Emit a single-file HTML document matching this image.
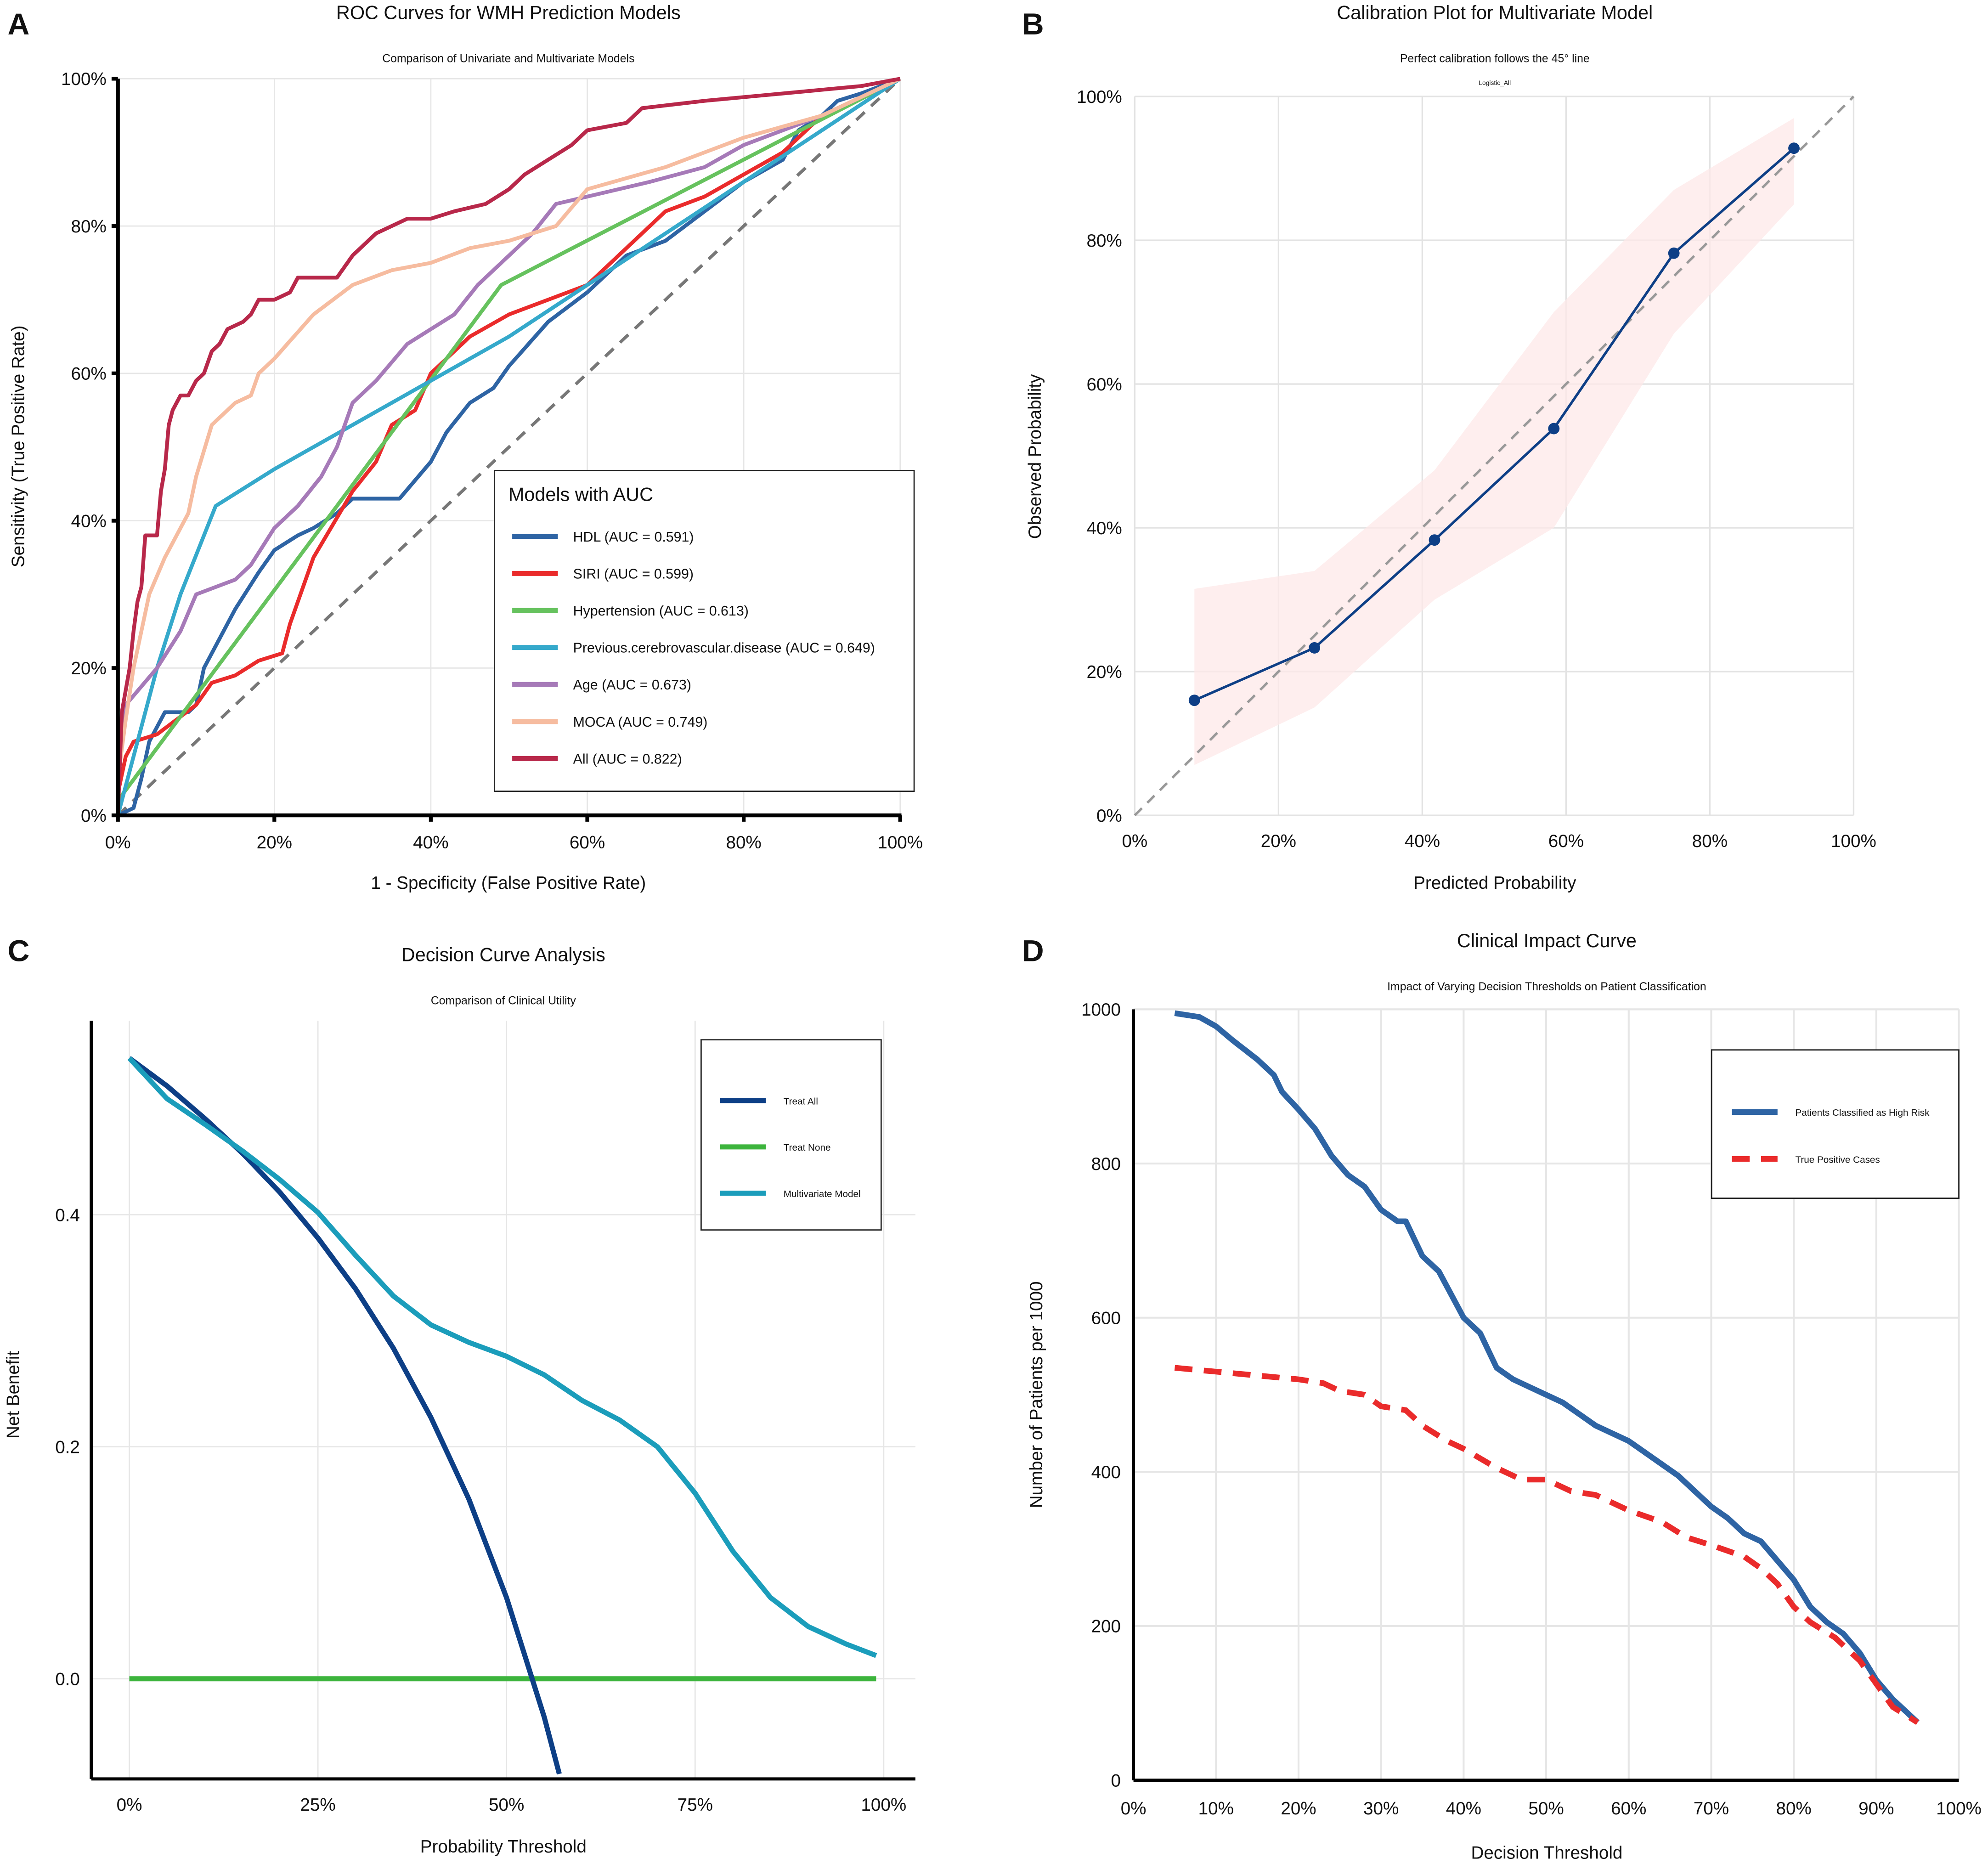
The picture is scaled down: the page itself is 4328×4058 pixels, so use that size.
<!DOCTYPE html>
<html><head><meta charset="utf-8"><style>
html,body{margin:0;padding:0;background:#fff;}
svg{display:block;font-family:"Liberation Sans",Arial,sans-serif;}
</style></head><body>
<svg id="fig" width="4328" height="4058" viewBox="0 0 1568 1470" xmlns="http://www.w3.org/2000/svg">
<rect x="0" y="0" width="1568" height="1470" fill="#fff"/>
</svg>
<script>
// ---------- Panel A data (ROC) ----------
const rocNames = ["HDL (AUC = 0.591)","SIRI (AUC = 0.599)","Hypertension (AUC = 0.613)","Previous.cerebrovascular.disease (AUC = 0.649)","Age (AUC = 0.673)","MOCA (AUC = 0.749)","All (AUC = 0.822)"];
const rocColors = ["#2e64a4","#ea2b2b","#66c25e","#35a9cb","#a67ab8","#f6bca0","#b8284a"];
const rocHDL = [[0,0],[0.02,0.01],[0.03,0.05],[0.04,0.1],[0.06,0.14],[0.09,0.14],[0.1,0.15],[0.11,0.2],[0.13,0.24],[0.15,0.28],[0.18,0.33],[0.2,0.36],[0.23,0.38],[0.25,0.39],[0.28,0.41],[0.3,0.43],[0.36,0.43],[0.4,0.48],[0.42,0.52],[0.45,0.56],[0.48,0.58],[0.5,0.61],[0.55,0.67],[0.6,0.71],[0.65,0.76],[0.7,0.78],[0.75,0.82],[0.8,0.86],[0.85,0.89],[0.87,0.93],[0.9,0.95],[0.92,0.97],[0.95,0.98],[1,1]];
const rocSIRI = [[0,0.03],[0.01,0.08],[0.02,0.1],[0.05,0.11],[0.1,0.15],[0.12,0.18],[0.15,0.19],[0.18,0.21],[0.21,0.22],[0.22,0.26],[0.25,0.35],[0.3,0.44],[0.33,0.48],[0.35,0.53],[0.38,0.55],[0.4,0.6],[0.45,0.65],[0.5,0.68],[0.55,0.7],[0.6,0.72],[0.65,0.77],[0.7,0.82],[0.75,0.84],[0.8,0.87],[0.85,0.9],[0.9,0.95],[1,1]];
const rocHyp = [[0,0.02],[0.49,0.72],[1,1]];
const rocPrev = [[0,0],[0.02,0.08],[0.05,0.2],[0.08,0.3],[0.125,0.42],[0.2,0.47],[0.3,0.53],[0.4,0.59],[0.5,0.65],[0.6,0.72],[0.7,0.79],[0.8,0.86],[0.9,0.93],[1,1]];
const rocAge = [[0,0.1],[0.01,0.15],[0.05,0.2],[0.08,0.25],[0.1,0.3],[0.15,0.32],[0.17,0.34],[0.2,0.39],[0.23,0.42],[0.26,0.46],[0.28,0.5],[0.3,0.56],[0.33,0.59],[0.37,0.64],[0.4,0.66],[0.43,0.68],[0.46,0.72],[0.5,0.76],[0.53,0.79],[0.56,0.83],[0.6,0.84],[0.68,0.86],[0.75,0.88],[0.8,0.91],[0.9,0.95],[1,1]];
const rocMOCA = [[0,0.05],[0.01,0.13],[0.02,0.2],[0.04,0.3],[0.06,0.35],[0.09,0.41],[0.1,0.46],[0.12,0.53],[0.15,0.56],[0.17,0.57],[0.18,0.6],[0.2,0.62],[0.25,0.68],[0.3,0.72],[0.35,0.74],[0.4,0.75],[0.45,0.77],[0.5,0.78],[0.56,0.8],[0.6,0.85],[0.7,0.88],[0.8,0.92],[0.9,0.95],[1,1]];
const rocAll = [[0,0],[0.005,0.14],[0.01,0.17],[0.015,0.2],[0.02,0.25],[0.025,0.29],[0.03,0.31],[0.035,0.38],[0.05,0.38],[0.055,0.44],[0.06,0.47],[0.065,0.53],[0.07,0.55],[0.08,0.57],[0.09,0.57],[0.1,0.59],[0.11,0.6],[0.12,0.63],[0.13,0.64],[0.14,0.66],[0.16,0.67],[0.17,0.68],[0.18,0.7],[0.2,0.7],[0.22,0.71],[0.23,0.73],[0.28,0.73],[0.3,0.76],[0.32,0.78],[0.33,0.79],[0.35,0.8],[0.37,0.81],[0.4,0.81],[0.43,0.82],[0.47,0.83],[0.5,0.85],[0.52,0.87],[0.55,0.89],[0.58,0.91],[0.6,0.93],[0.65,0.94],[0.67,0.96],[0.75,0.97],[0.85,0.98],[0.95,0.99],[1,1]];
const pctTicks = ["0%","20%","40%","60%","80%","100%"];
// ---------- Panel B data (calibration) ----------
const calPred = [0.083,0.25,0.417,0.583,0.75,0.917];
const calObs = [0.16,0.233,0.383,0.538,0.782,0.928];
const calLo = [0.07,0.15,0.3,0.4,0.67,0.85];
const calHi = [0.315,0.34,0.48,0.7,0.87,0.97];
// ---------- Panel C data (DCA) ----------
const dcaT = [0,0.05,0.1,0.15,0.2,0.25,0.3,0.35,0.4,0.45,0.5,0.55,0.57];
const dcaAll = [0.535,0.511,0.483,0.453,0.419,0.38,0.336,0.285,0.225,0.155,0.07,-0.033,-0.082];
const dcaModelT = [0,0.05,0.1,0.15,0.2,0.25,0.3,0.35,0.4,0.45,0.5,0.55,0.6,0.65,0.7,0.75,0.8,0.85,0.9,0.95,0.99];
const dcaModel = [0.535,0.5,0.478,0.455,0.43,0.402,0.365,0.33,0.305,0.29,0.278,0.262,0.24,0.223,0.2,0.16,0.11,0.07,0.045,0.03,0.02];
const dcaNoneT = [0,0.99];
const dcaNone = [0,0];
const dcaXTicks = ["0%","25%","50%","75%","100%"];
const dcaYTicks = ["0.0","0.2","0.4"];
// ---------- Panel D data (clinical impact) ----------
const ciT = [0.05,0.08,0.1,0.12,0.15,0.17,0.18,0.2,0.22,0.24,0.26,0.28,0.3,0.32,0.33,0.35,0.37,0.4,0.42,0.44,0.46,0.48,0.5,0.52,0.54,0.56,0.58,0.6,0.62,0.64,0.66,0.68,0.7,0.72,0.74,0.76,0.78,0.8,0.82,0.84,0.86,0.88,0.9,0.92,0.95];
const ciHigh = [995,990,978,960,935,915,893,870,845,810,785,770,740,725,725,680,660,600,580,535,520,510,500,490,475,460,450,440,425,410,395,375,355,340,320,310,285,260,225,205,190,165,130,105,75];
const ciTPT = [0.05,0.1,0.15,0.2,0.23,0.25,0.28,0.3,0.33,0.35,0.38,0.4,0.44,0.47,0.5,0.53,0.56,0.6,0.64,0.67,0.7,0.74,0.76,0.78,0.8,0.82,0.85,0.88,0.9,0.92,0.95];
const ciTP = [535,530,525,520,515,505,500,485,480,460,440,430,405,390,390,375,370,350,335,315,305,290,275,255,225,205,185,155,125,95,75];
const ciXTicks = ["0%","10%","20%","30%","40%","50%","60%","70%","80%","90%","100%"];
const ciYTicks = ["0","200","400","600","800","1000"];

const NS="http://www.w3.org/2000/svg";
const svg=document.getElementById('fig');
function el(tag,attrs,parent,txt){const e=document.createElementNS(NS,tag);for(const k in attrs)e.setAttribute(k,attrs[k]);if(txt!==undefined)e.textContent=txt;(parent||svg).appendChild(e);return e;}
function txt(x,y,s,size,anchor,extra){return el('text',Object.assign({x:x,y:y,'font-size':size,'text-anchor':anchor||'middle',fill:'#111'},extra||{}),svg,s);}
function pathFrom(pts){return pts.map((p,i)=>(i?'L':'M')+p[0].toFixed(2)+' '+p[1].toFixed(2)).join(' ');}

// Panel labels
[["A",6,27],["B",806,27],["C",6,758],["D",806,758]].forEach(l=>{const t=txt(l[1],l[2],l[0],24,'start',{'font-weight':'bold'});

});

// ===== Panel A =====
(function(){
const x0=93,x1=710,y0=643,y1=62;
const sx=v=>x0+v*(x1-x0), sy=v=>y0-v*(y0-y1);
for(let i=0;i<=5;i++){const v=i/5;
 el('line',{x1:sx(v),x2:sx(v),y1:y1,y2:y0,stroke:'#e6e6e6','stroke-width':1});
 el('line',{x1:x0,x2:x1,y1:sy(v),y2:sy(v),stroke:'#e6e6e6','stroke-width':1});}
el('line',{x1:sx(0),y1:sy(0),x2:sx(1),y2:sy(1),stroke:'#777','stroke-width':2.5,'stroke-dasharray':'9,7'});
const series=[rocHDL,rocSIRI,rocHyp,rocPrev,rocAge,rocMOCA,rocAll];
const keys=['hdl','siri','hypertension','prev-cerebrovascular','age','moca','all'];
series.forEach((s,i)=>{const p=el('path',{d:pathFrom(s.map(q=>[sx(q[0]),sy(q[1])])),fill:'none',stroke:rocColors[i],'stroke-width':3,'stroke-linejoin':'round'});
 
 });
el('line',{x1:x0,x2:x0,y1:y1,y2:y0+1,stroke:'#000','stroke-width':3});
el('line',{x1:x0-1,x2:x1+1,y1:y0,y2:y0,stroke:'#000','stroke-width':3});
for(let i=0;i<=5;i++){const v=i/5;
 el('line',{x1:sx(v),x2:sx(v),y1:y0,y2:y0+5,stroke:'#000','stroke-width':3});
 el('line',{x1:x0-5,x2:x0,y1:sy(v),y2:sy(v),stroke:'#000','stroke-width':3});
 const a=txt(sx(v),y0+26,pctTicks[i],14);
 const b=txt(x0-9,sy(v)+5,pctTicks[i],14,'end');}
let t=txt(401,15,"ROC Curves for WMH Prediction Models",15);
t=txt(401,49,"Comparison of Univariate and Multivariate Models",9);
t=txt(401,701,"1 - Specificity (False Positive Rate)",14);
t=txt(0,0,"Sensitivity (True Positive Rate)",14,'middle',{transform:'translate(19,352) rotate(-90)'});
const lg=el('rect',{x:390,y:371,width:331,height:253,fill:'#fff',stroke:'#222','stroke-width':1});

t=txt(401,395,"Models with AUC",15,'start');
rocNames.forEach((n,i)=>{const y=423+i*29.2;
 el('line',{x1:404,x2:440,y1:y,y2:y,stroke:rocColors[i],'stroke-width':4});
 const e=txt(452,y+4,n,11,'start');});
})();

// ===== Panel B =====
(function(){
const x0=895,x1=1462,y0=643,y1=76;
const sx=v=>x0+v*(x1-x0), sy=v=>y0-v*(y0-y1);
for(let i=0;i<=5;i++){const v=i/5;
 el('line',{x1:sx(v),x2:sx(v),y1:y1,y2:y0,stroke:'#e3e3e3','stroke-width':1.2});
 el('line',{x1:x0,x2:x1,y1:sy(v),y2:sy(v),stroke:'#e3e3e3','stroke-width':1.2});
 let a=txt(sx(v),y0+25,pctTicks[i],14);
 a=txt(x0-10,sy(v)+5,pctTicks[i],14,'end');}
const band=calPred.map((p,i)=>[sx(p),sy(calHi[i])]).concat(calPred.map((p,i)=>[sx(p),sy(calLo[i])]).reverse());
const b=el('path',{d:pathFrom(band)+'Z',fill:'#fde8e8','fill-opacity':0.75});

el('line',{x1:sx(0),y1:sy(0),x2:sx(1),y2:sy(1),stroke:'#999','stroke-width':2,'stroke-dasharray':'8,6'});
const ln=el('path',{d:pathFrom(calPred.map((p,i)=>[sx(p),sy(calObs[i])])),fill:'none',stroke:'#0e3f86','stroke-width':2});

calPred.forEach((p,i)=>{const c=el('circle',{cx:sx(p),cy:sy(calObs[i]),r:4.5,fill:'#0e3f86'});
 });
let t=txt(1179,15,"Calibration Plot for Multivariate Model",15);
t=txt(1179,49,"Perfect calibration follows the 45° line",9);
t=txt(1179,67,"Logistic_All",5);
t=txt(1179,701,"Predicted Probability",14);
t=txt(0,0,"Observed Probability",14,'middle',{transform:'translate(821,360) rotate(-90)'});
})();

// ===== Panel C =====
(function(){
const xa=102,xb=697,yz=1324,k=915;
const sx=v=>xa+v*(xb-xa), sy=v=>yz-v*k;
const L=72,R=722,T=805,B=1403;
[0,0.25,0.5,0.75,1].forEach((v,i)=>{el('line',{x1:sx(v),x2:sx(v),y1:T,y2:B,stroke:'#e6e6e6','stroke-width':1});
 const a=txt(sx(v),B+25,dcaXTicks[i],14);});
[0,0.2,0.4].forEach((v,i)=>{el('line',{x1:L,x2:R,y1:sy(v),y2:sy(v),stroke:'#e6e6e6','stroke-width':1});
 const a=txt(L-9,sy(v)+5,dcaYTicks[i],14,'end');});
el('clipPath',{id:'clipC'},svg);
el('rect',{x:L,y:T-10,width:R-L,height:B-T+10},svg.lastChild);
const draw=(ts,vs,col,name)=>{const p=el('path',{d:pathFrom(ts.map((t,i)=>[sx(t),sy(vs[i])])),fill:'none',stroke:col,'stroke-width':4,'clip-path':'url(#clipC)','stroke-linejoin':'round'});
 };
draw(dcaNoneT,dcaNone,'#3cb43c','treat-none-line');
draw(dcaT,dcaAll,'#0d3f86','treat-all-line');
draw(dcaModelT,dcaModel,'#1b9dbb','multivariate-model-line');
el('line',{x1:L,x2:L,y1:T,y2:B,stroke:'#000','stroke-width':2.5});
el('line',{x1:L,x2:R,y1:B,y2:B,stroke:'#000','stroke-width':2.5});
let t=txt(397,758,"Decision Curve Analysis",15);
t=txt(397,792,"Comparison of Clinical Utility",9);
t=txt(397,1461,"Probability Threshold",14);
t=txt(0,0,"Net Benefit",14,'middle',{transform:'translate(15,1100) rotate(-90)'});
const lg=el('rect',{x:553,y:820,width:142,height:150,fill:'#fff',stroke:'#222','stroke-width':1});

[["Treat All",'#0d3f86'],["Treat None",'#3cb43c'],["Multivariate Model",'#1b9dbb']].forEach((e,i)=>{const y=868+i*36.5;
 el('line',{x1:568,x2:604,y1:y,y2:y,stroke:e[1],'stroke-width':4});
 const a=txt(618,y+3,e[0],7.5,'start');});
})();

// ===== Panel D =====
(function(){
const x0=894,x1=1545,y0=1404,y1=796;
const sx=v=>x0+v*(x1-x0), sy=v=>y0-v/1000*(y0-y1);
for(let i=0;i<=10;i++){const v=i/10;
 el('line',{x1:sx(v),x2:sx(v),y1:y1,y2:y0,stroke:'#e6e6e6','stroke-width':1.5});
 const a=txt(sx(v),y0+27,ciXTicks[i],14);}
for(let i=0;i<=5;i++){const v=i*200;
 el('line',{x1:x0,x2:x1,y1:sy(v),y2:sy(v),stroke:'#e6e6e6','stroke-width':1.5});
 const a=txt(x0-10,sy(v)+5,ciYTicks[i],14,'end');}
let p=el('path',{d:pathFrom(ciT.map((t,i)=>[sx(t),sy(ciHigh[i])])),fill:'none',stroke:'#2e64a4','stroke-width':4.5,'stroke-linejoin':'round'});

p=el('path',{d:pathFrom(ciTPT.map((t,i)=>[sx(t),sy(ciTP[i])])),fill:'none',stroke:'#ea2b2b','stroke-width':4.5,'stroke-dasharray':'14,9'});

el('line',{x1:x0,x2:x0,y1:y1,y2:y0,stroke:'#000','stroke-width':2.5});
el('line',{x1:x0,x2:x1,y1:y0,y2:y0,stroke:'#000','stroke-width':2.5});
let t=txt(1220,747,"Clinical Impact Curve",15);
t=txt(1220,781,"Impact of Varying Decision Thresholds on Patient Classification",9);
t=txt(1220,1466,"Decision Threshold",14);
t=txt(0,0,"Number of Patients per 1000",14,'middle',{transform:'translate(822,1100) rotate(-90)'});
const lg=el('rect',{x:1350,y:828,width:195,height:117,fill:'#fff',stroke:'#222','stroke-width':1});

el('line',{x1:1366,x2:1402,y1:877,y2:877,stroke:'#2e64a4','stroke-width':4.5});
let a=txt(1416,880,"Patients Classified as High Risk",7.5,'start');
el('line',{x1:1366,x2:1402,y1:914,y2:914,stroke:'#ea2b2b','stroke-width':4.5,'stroke-dasharray':'14,9'});
a=txt(1416,917,"True Positive Cases",7.5,'start');
})();
</script>
</body></html>
